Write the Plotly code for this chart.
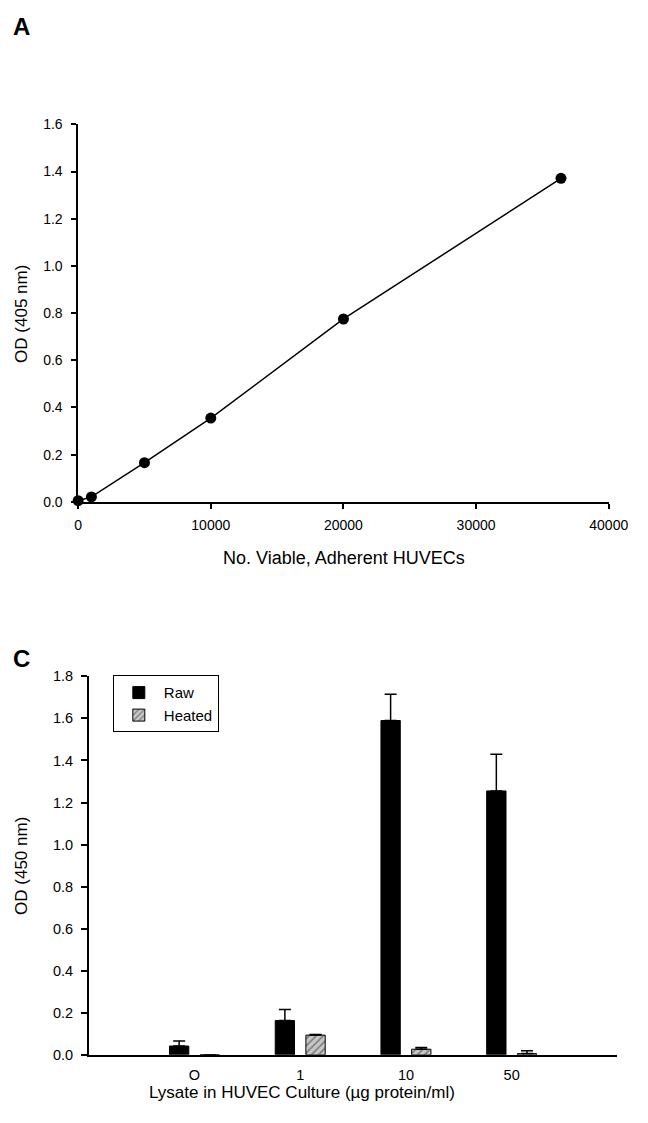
import plotly.graph_objects as go

# ---- Panel A data ----
cell_counts = [0, 1000, 5000, 10000, 20000, 36400]
od405 = [0.005, 0.021, 0.166, 0.355, 0.775, 1.371]
od405_err = [0.006, 0.006, 0.008, 0.008, 0.008, 0.012]
a_xticks = [0, 10000, 20000, 30000, 40000]
a_yticks = [0.0, 0.2, 0.4, 0.6, 0.8, 1.0, 1.2, 1.4, 1.6]

# ---- Panel C data ----
lysate_labels = ["O", "1", "10", "50"]
raw_od450 = [0.042, 0.163, 1.59, 1.255]
raw_err = [0.024, 0.053, 0.125, 0.175]
heated_od450 = [0.0, 0.094, 0.027, 0.006]
heated_err = [0.0, 0.003, 0.008, 0.014]
c_yticks = [0.0, 0.2, 0.4, 0.6, 0.8, 1.0, 1.2, 1.4, 1.6, 1.8]

FONT = "Liberation Sans, Arial, sans-serif"
W, H = 648, 1123

fig = go.Figure()

fig.add_trace(go.Scatter(
    x=cell_counts, y=od405, mode="lines+markers",
    line=dict(color="black", width=1.5),
    marker=dict(color="black", size=11),
    error_y=dict(type="data", array=od405_err, color="black", thickness=1.5, width=4),
    cliponaxis=False, showlegend=False, xaxis="x", yaxis="y",
))

fig.add_trace(go.Bar(
    x=lysate_labels, y=raw_od450, name="Raw",
    marker=dict(color="black", line=dict(color="black", width=1)),
    error_y=dict(type="data", array=raw_err, arrayminus=[0] * len(raw_err),
                 symmetric=False, color="black", thickness=1.5, width=6),
    xaxis="x2", yaxis="y2",
))
fig.add_trace(go.Bar(
    x=lysate_labels, y=heated_od450, name="Heated",
    marker=dict(color="#c8c8c8", line=dict(color="black", width=1),
                pattern=dict(shape="/", fgcolor="#3a3a3a", bgcolor="#c8c8c8",
                             size=5, solidity=0.35)),
    error_y=dict(type="data", array=heated_err, arrayminus=[0] * len(heated_err),
                 symmetric=False, color="black", thickness=1.5, width=6),
    xaxis="x2", yaxis="y2",
))

tickfont = dict(family=FONT, size=14, color="black")
tickfont2 = dict(family=FONT, size=14.5, color="black")
axis_common = dict(showline=True, linecolor="black", linewidth=1.5, showgrid=False,
                   zeroline=False, ticks="outside", tickcolor="black", tickwidth=1.5)


def ann(text, x, y, angle=0, size=18, bold=False):
    return dict(text=f"<b>{text}</b>" if bold else text, x=x / W, y=1 - y / H,
                xref="paper", yref="paper", xanchor="center", yanchor="middle",
                textangle=angle, showarrow=False,
                font=dict(family=FONT, size=size, color="black"))


fig.update_layout(
    width=W, height=H,
    margin=dict(l=0, r=0, t=0, b=0),
    paper_bgcolor="white", plot_bgcolor="white",
    font=dict(family=FONT, size=14, color="black"),
    barmode="group", bargap=0.42, bargroupgap=0.37,
    xaxis=dict(domain=[77 / W, 628 / W], anchor="y", range=[0, 40000],
               tickvals=a_xticks, ticktext=[str(v) for v in a_xticks],
               ticklen=5, ticklabelstandoff=5, tickfont=tickfont, **axis_common),
    yaxis=dict(domain=[1 - 501 / H, 1 - 118 / H], anchor="x", range=[0, 1.6],
               tickvals=a_yticks, ticktext=[f"{v:.1f}" for v in a_yticks],
               ticklen=5, ticklabelstandoff=6, tickfont=tickfont, **axis_common),
    xaxis2=dict(domain=[88 / W, 637 / W], anchor="y2", type="category",
                range=[-1, 4], showline=True, linecolor="black", linewidth=1.5,
                showgrid=False, zeroline=False, tickfont=tickfont2, ticks="",
                ticklabelstandoff=6),
    yaxis2=dict(domain=[1 - 1062 / H, 1 - 678 / H], anchor="x2", range=[0, 1.8],
                tickvals=c_yticks, ticktext=[f"{v:.1f}" for v in c_yticks],
                ticklen=6, ticklabelstandoff=5, tickfont=tickfont2, **axis_common),
    legend=dict(x=113 / W, y=1 - 677 / H, xanchor="left", yanchor="top",
                bordercolor="black", borderwidth=1, bgcolor="white",
                font=dict(family=FONT, size=15, color="black"),
                itemwidth=40),
    annotations=[
        ann("A", 18, 19, size=24, bold=True),
        ann("C", 18, 660, size=24, bold=True),
        ann("OD (405 nm)", 18, 310, angle=-90, size=17),
        ann("No. Viable, Adherent HUVECs", 353, 558, size=18),
        ann("OD (450 nm)", 18, 870, angle=-90, size=17),
        ann("Lysate in HUVEC Culture (µg protein/ml)", 309, 1100, size=17),
    ],
)

fig.write_html("out.html", config={"displayModeBar": False},
               post_script="document.body.style.margin='0';document.body.style.padding='0';")
